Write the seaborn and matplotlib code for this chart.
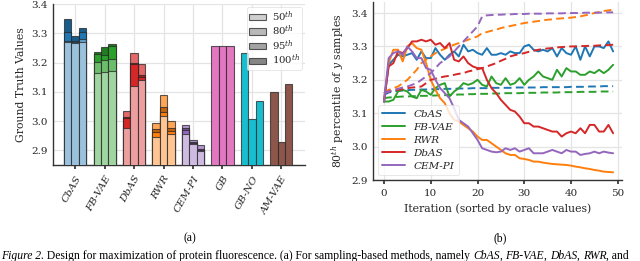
import numpy as np
import pandas as pd
import matplotlib
matplotlib.use('Agg')
import matplotlib.pyplot as plt
import matplotlib.patches as mpatches
import matplotlib.colors as mcolors
import seaborn as sns

# ---- data: left panel (ground truth values, 3 runs per method) ----
methods = ['CbAS', 'FB-VAE', 'DbAS', 'RWR', 'CEM-PI', 'GB', 'GB-NO', 'AM-VAE']
pct_labels = ['50$^{th}$', '80$^{th}$', '95$^{th}$', '100$^{th}$']

# sampling-based methods: percentile values per run
p50 = [[3.269, 3.266, 3.270], [3.164, 3.166, 3.172], [2.976, 3.119, 3.141],
       [2.947, 3.016, 2.955], [2.957, 2.921, 2.899]]
p80 = [[3.275, 3.269, 3.280], [3.201, 3.207, 3.213], [3.035, 3.234, 3.194],
       [2.993, 3.090, 3.001], [2.985, 2.937, 2.920]]
p95 = [[3.306, 3.275, 3.303], [3.228, 3.226, 3.258], [3.009, 3.195, 3.150],
       [2.962, 3.030, 2.965], [2.968, 2.924, 2.902]]
p100 = [[3.349, 3.292, 3.317], [3.237, 3.252, 3.262], [3.013, 3.200, 3.157],
        [2.972, 3.048, 2.976], [2.977, 2.927, 2.905]]

# single-value methods
gb = [3.255, 3.255, 3.255]
gb_no = [3.234, 3.008, 3.069]
am_vae = [3.101, 2.928, 3.128]

# ---- data: right panel (80th percentile per iteration) ----
iteration = list(range(50))
cbas_solid = [3.135, 3.245, 3.26, 3.275, 3.27, 3.275, 3.28, 3.26, 3.285, 3.265,
              3.265, 3.295, 3.275, 3.26, 3.275, 3.285, 3.27, 3.305, 3.285, 3.29,
              3.28, 3.275, 3.295, 3.275, 3.275, 3.28, 3.275, 3.285, 3.28, 3.28,
              3.3, 3.305, 3.29, 3.285, 3.29, 3.285, 3.295, 3.27, 3.295, 3.28,
              3.275, 3.3, 3.26, 3.3, 3.27, 3.3, 3.3, 3.295, 3.315, 3.285]
fbvae_solid = [3.135, 3.135, 3.14, 3.165, 3.17, 3.165, 3.15, 3.145, 3.17, 3.165,
               3.155, 3.175, 3.185, 3.19, 3.15, 3.165, 3.175, 3.19, 3.185, 3.19,
               3.2, 3.185, 3.18, 3.21, 3.19, 3.185, 3.205, 3.185, 3.19, 3.205,
               3.185, 3.2, 3.21, 3.225, 3.21, 3.205, 3.2, 3.23, 3.21, 3.235,
               3.225, 3.225, 3.215, 3.215, 3.225, 3.22, 3.23, 3.22, 3.23, 3.245]
rwr_solid = [3.135, 3.25, 3.29, 3.29, 3.255, 3.3, 3.31, 3.295, 3.29, 3.25,
             3.2, 3.17, 3.145, 3.13, 3.1, 3.08, 3.075, 3.065, 3.055, 3.045,
             3.03, 3.02, 3.02, 3.01, 3.0, 2.99, 2.98, 2.975, 2.975, 2.965,
             2.963, 2.96, 2.955, 2.955, 2.952, 2.95, 2.948, 2.947, 2.946, 2.945,
             2.943, 2.94, 2.938, 2.935, 2.933, 2.93, 2.928, 2.925, 2.924, 2.923]
dbas_solid = [3.135, 3.24, 3.25, 3.285, 3.28, 3.295, 3.315, 3.315, 3.32, 3.315,
              3.32, 3.305, 3.31, 3.295, 3.31, 3.26, 3.255, 3.27, 3.25, 3.24,
              3.235, 3.235, 3.2, 3.175, 3.16, 3.14, 3.125, 3.11, 3.105, 3.09,
              3.07, 3.07, 3.06, 3.06, 3.055, 3.05, 3.045, 3.045, 3.03, 3.04,
              3.045, 3.04, 3.055, 3.04, 3.065, 3.065, 3.045, 3.045, 3.065, 3.04]
cempi_solid = [3.135, 3.265, 3.28, 3.285, 3.275, 3.3, 3.285, 3.265, 3.265, 3.235,
               3.23, 3.2, 3.175, 3.16, 3.145, 3.115, 3.08, 3.07, 3.06, 3.04,
               3.02, 2.995, 2.99, 2.985, 2.983, 2.985, 2.995, 2.99, 2.995, 2.985,
               2.99, 2.995, 2.98, 2.98, 2.98, 2.985, 2.99, 2.985, 2.98, 2.99,
               2.985, 2.985, 2.975, 2.978, 2.98, 2.985, 2.98, 2.985, 2.982, 2.98]

cbas_dash = [3.155, 3.162, 3.165, 3.167, 3.168, 3.169, 3.170, 3.170, 3.171, 3.171,
             3.172, 3.172, 3.172, 3.173, 3.173, 3.173, 3.174, 3.174, 3.174, 3.175,
             3.175, 3.175, 3.175, 3.176, 3.176, 3.176, 3.176, 3.176, 3.177, 3.177,
             3.177, 3.177, 3.177, 3.177, 3.178, 3.178, 3.178, 3.178, 3.178, 3.178,
             3.179, 3.179, 3.179, 3.179, 3.180, 3.180, 3.180, 3.181, 3.181, 3.181]
fbvae_dash = [3.145, 3.147, 3.148, 3.149, 3.150, 3.150, 3.151, 3.151, 3.152, 3.152,
              3.153, 3.153, 3.154, 3.154, 3.155, 3.155, 3.156, 3.156, 3.157, 3.157,
              3.158, 3.158, 3.158, 3.159, 3.159, 3.159, 3.160, 3.160, 3.160, 3.160,
              3.161, 3.161, 3.161, 3.161, 3.162, 3.162, 3.162, 3.162, 3.163, 3.163,
              3.163, 3.163, 3.164, 3.164, 3.164, 3.164, 3.165, 3.165, 3.165, 3.165]
rwr_dash = [3.16, 3.17, 3.175, 3.18, 3.19, 3.20, 3.215, 3.23, 3.25, 3.26,
            3.27, 3.28, 3.287, 3.293, 3.30, 3.305, 3.31, 3.315, 3.32, 3.325,
            3.33, 3.34, 3.343, 3.347, 3.35, 3.355, 3.358, 3.361, 3.364, 3.367,
            3.37, 3.372, 3.374, 3.376, 3.378, 3.38, 3.381, 3.383, 3.384, 3.385,
            3.386, 3.388, 3.39, 3.393, 3.396, 3.4, 3.403, 3.406, 3.408, 3.41]
dbas_dash = [3.16, 3.165, 3.168, 3.170, 3.172, 3.175, 3.177, 3.178, 3.180, 3.190,
             3.200, 3.203, 3.207, 3.210, 3.212, 3.215, 3.218, 3.220, 3.225, 3.228,
             3.232, 3.235, 3.240, 3.245, 3.250, 3.257, 3.263, 3.270, 3.274, 3.277,
             3.280, 3.284, 3.287, 3.290, 3.292, 3.294, 3.295, 3.297, 3.298, 3.299,
             3.300, 3.300, 3.301, 3.301, 3.302, 3.302, 3.303, 3.304, 3.304, 3.305]
cempi_dash = [3.16, 3.165, 3.17, 3.173, 3.177, 3.18, 3.185, 3.19, 3.20, 3.21,
              3.22, 3.235, 3.25, 3.26, 3.27, 3.285, 3.30, 3.315, 3.33, 3.345,
              3.36, 3.39, 3.393, 3.394, 3.395, 3.395, 3.396, 3.396, 3.397, 3.397,
              3.397, 3.398, 3.398, 3.398, 3.398, 3.399, 3.399, 3.399, 3.399, 3.4,
              3.4, 3.4, 3.4, 3.401, 3.401, 3.401, 3.401, 3.402, 3.402, 3.402]

line_names = ['CbAS', 'FB-VAE', 'RWR', 'DbAS', 'CEM-PI']
solid_lines = [cbas_solid, fbvae_solid, rwr_solid, dbas_solid, cempi_solid]
dash_lines = [cbas_dash, fbvae_dash, rwr_dash, dbas_dash, cempi_dash]

caption = "Design for maximization of protein fluorescence. (a) For sampling-based methods, namely "

# ---- style ----
sns.set_theme(style='ticks')
plt.rcParams.update({
    'font.family': 'serif',
    'font.serif': ['DejaVu Serif'],
    'mathtext.fontset': 'dejavuserif',
    'axes.edgecolor': '0.2',
    'axes.linewidth': 1.0,
    'axes.grid': True,
    'grid.color': '#e4e4e4',
    'grid.linewidth': 0.9,
    'xtick.color': '0.2',
    'ytick.color': '0.2',
    'xtick.labelcolor': '0.15',
    'ytick.labelcolor': '0.15',
    'xtick.major.size': 3,
    'ytick.major.size': 0,
    'xtick.labelsize': 7.5,
    'ytick.labelsize': 7.5,
    'axes.labelsize': 7.8,
    'legend.fontsize': 7.5,
})

tab = sns.color_palette('tab10')
method_colors = {'CbAS': tab[0], 'FB-VAE': tab[2], 'DbAS': tab[3], 'RWR': tab[1],
                 'CEM-PI': tab[4], 'GB': tab[6], 'GB-NO': tab[9], 'AM-VAE': tab[5]}


def blend(c, other, t):
    c = np.array(mcolors.to_rgb(c))
    o = np.array(mcolors.to_rgb(other))
    return tuple(c * (1 - t) + o * t)


def shades(c):
    return [blend(c, 'white', 0.55), blend(c, 'white', 0.3), c, blend(c, 'black', 0.22)]


W, H = 640, 261
fig = plt.figure(figsize=(W / 100, H / 100), dpi=100)
ax1 = fig.add_axes([53 / W, 1 - 165 / H, (305 - 53) / W, (165 - 4) / H])
ax2 = fig.add_axes([373 / W, 1 - 180 / H, (622 - 373) / W, (180 - 2) / H])

edge = (0.15, 0.15, 0.15, 0.75)
bw = 0.25
pct_table = [p50, p80, p95, p100]

# (a) overlaid percentile bars, tallest drawn first
for i, m in enumerate(methods[:5]):
    sh = shades(method_colors[m])
    for j in range(3):
        vals = [pct_table[k][i][j] for k in range(4)]
        order = np.argsort(vals)[::-1]
        for z, k in enumerate(order):
            ax1.bar(i + (j - 1) * bw, vals[k], width=bw, color=sh[k],
                    edgecolor=edge, linewidth=0.8, zorder=3 + z)

for i, vals in zip([5, 6, 7], [gb, gb_no, am_vae]):
    c = method_colors[methods[i]]
    for j in range(3):
        ax1.bar(i + (j - 1) * bw, vals[j], width=bw, color=c,
                edgecolor=edge, linewidth=0.8, zorder=3)

ax1.set_xlim(-0.75, 7.8)
ax1.set_ylim(2.85, 3.4)
ax1.set_yticks([2.9, 3.0, 3.1, 3.2, 3.3, 3.4])
ax1.set_xticks(range(len(methods)))
ax1.set_xticklabels(methods, rotation=60, ha='right', rotation_mode='anchor',
                    fontstyle='italic')
ax1.set_ylabel('Ground Truth Values')
ax1.set_axisbelow(True)

handles = [mpatches.Patch(facecolor=blend('0.5', 'white', t), edgecolor=edge, linewidth=0.8)
           for t in [0.62, 0.45, 0.28, 0.05]]
leg1 = ax1.legend(handles, pct_labels, loc='upper right', frameon=True,
                  handlelength=1.6, handleheight=0.6, handletextpad=0.6,
                  borderpad=0.25, labelspacing=0.0, borderaxespad=0.25,
                  fancybox=True, bbox_to_anchor=(1.0, 1.0), fontsize=7.3)
leg1.get_frame().set_edgecolor('#dddddd')
leg1.get_frame().set_linewidth(0.6)
leg1.set_zorder(20)

# (b) lines
for name, ys, yd in zip(line_names, solid_lines, dash_lines):
    c = method_colors[name]
    sns.lineplot(x=iteration, y=ys, color=c, lw=1.4, ax=ax2, label=name)
    sns.lineplot(x=iteration, y=yd, color=c, lw=1.4, ax=ax2, linestyle=(0, (4, 2.2)))

ax2.set_xlim(-2.35, 50.9)
ax2.set_ylim(2.9, 3.433)
ax2.set_xticks([0, 10, 20, 30, 40, 50])
ax2.set_yticks([2.9, 3.0, 3.1, 3.2, 3.3, 3.4])
ax2.set_xlabel('Iteration (sorted by oracle values)')
ax2.set_ylabel('80$^{th}$ percentile of $y$ samples')
leg2 = ax2.legend(loc='lower left', frameon=True, handlelength=2.2,
                  borderpad=0.4, labelspacing=0.35, fancybox=True,
                  prop={'style': 'italic', 'family': 'DejaVu Serif', 'size': 7.5})
leg2.get_frame().set_edgecolor('#dddddd')
leg2.get_frame().set_linewidth(0.6)

for ax in (ax1, ax2):
    sns.despine(ax=ax)

# subfigure labels and caption
cap_font = dict(family='Liberation Serif', size=8.4, color='black')
fig.text(190 / W, 1 - 241 / H, '(a)', ha='center', va='baseline', **cap_font)
fig.text(500 / W, 1 - 241 / H, '(b)', ha='center', va='baseline', **cap_font)

renderer = fig.canvas.get_renderer()
pieces = [('Figure 2.', 'italic'), (' ' + caption, 'normal'), ('CbAS', 'italic'),
          (', ', 'normal'), ('FB-VAE', 'italic'), (', ', 'normal'), ('DbAS', 'italic'),
          (', ', 'normal'), ('RWR', 'italic'), (', and', 'normal')]
xpos = 1 / W
for txt, st in pieces:
    t = fig.text(xpos, 1 - 259 / H, txt, ha='left', va='baseline', fontstyle=st, **cap_font)
    bb = t.get_window_extent(renderer=renderer)
    xpos += bb.width / W

fig.savefig('out.png', dpi=100)
